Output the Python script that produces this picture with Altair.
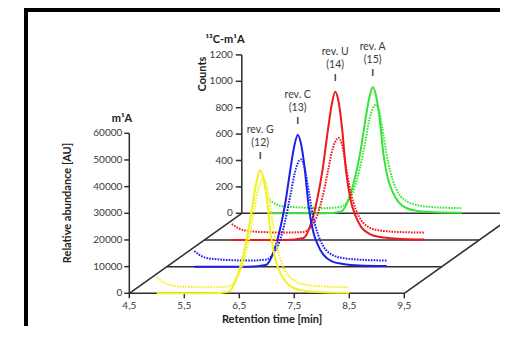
import altair as alt
import pandas as pd

# ---------------- data ----------------
rt = [5.0, 5.2, 5.5, 6.0, 6.3, 6.45, 6.55, 6.65, 6.75, 6.82, 6.88, 6.94, 7.0,
      7.08, 7.16, 7.25, 7.35, 7.5, 7.7, 8.0, 8.5]

# m1A relative abundance [AU] (solid traces)
m1a_rev_g = [0, 0, 0, 0, 600, 5600, 12400, 21800, 34500, 42400, 46100, 43100, 35600,
             21000, 12400, 7500, 4100, 1900, 900, 400, 200]
m1a_rev_c = [0, 0, 0, 0, 600, 6000, 13300, 23300, 36900, 45400, 49400, 46100, 38100,
             22500, 13300, 8000, 4400, 2000, 1000, 400, 200]
m1a_rev_u = [0, 0, 0, 0, 700, 6800, 15000, 26300, 41600, 51100, 55600, 52000, 42900,
             25300, 15000, 9000, 4900, 2300, 1100, 500, 200]
m1a_rev_a = [0, 0, 0, 0, 600, 5700, 12700, 22400, 35400, 43500, 47300, 44200, 36500,
             21500, 12700, 7700, 4200, 1900, 900, 400, 200]

# 13C-m1A counts (dotted traces)
c13_rev_g = [121, 68, 49, 46, 53, 114, 205, 364, 584, 744, 835, 873, 812,
             607, 402, 258, 159, 95, 65, 53, 46]
c13_rev_c = [118, 68, 53, 46, 53, 106, 190, 342, 547, 698, 782, 812, 759,
             569, 380, 243, 152, 91, 65, 53, 46]
c13_rev_u = [121, 76, 61, 56, 61, 106, 182, 326, 524, 668, 744, 774, 729,
             546, 364, 235, 152, 95, 72, 61, 56]
c13_rev_a = [102, 57, 46, 39, 49, 106, 194, 349, 554, 710, 793, 824, 770,
             577, 387, 247, 152, 91, 61, 46, 39]

samples = ["rev. G", "rev. C", "rev. U", "rev. A"]
sample_numbers = ["(12)", "(13)", "(14)", "(15)"]
colors = ["#f2f21c", "#1f1fe8", "#ec1c1c", "#36e436"]

x_ticks = [4.5, 5.5, 6.5, 7.5, 8.5, 9.5]
au_ticks = [0, 10000, 20000, 30000, 40000, 50000, 60000]
count_ticks = [0, 200, 400, 600, 800, 1000, 1200]

# ---------------- projection / layout constants ----------------
W, H = 492, 318
PX_PER_MIN = 55.0
PX_PER_AU = 160.0 / 60000.0
X_ORIGIN_PX, Y_ORIGIN_PX = 121.3, 285.3          # where (4.5 min, 0 AU) sits in the plot
X0, X1 = x_ticks[0], x_ticks[-1]
DEPTH_DX = 37.5 / PX_PER_MIN                      # depth step along retention time
DEPTH_DY = 10000.0                                # depth step along abundance
COUNT_TO_AU = 49.5
N_DEPTH = 3
TICK_MIN = 5.0 / PX_PER_MIN
TICK_AU = 5.0 / PX_PER_AU

xscale = alt.Scale(domain=[X0 - X_ORIGIN_PX / PX_PER_MIN, X0 + (W - X_ORIGIN_PX) / PX_PER_MIN],
                   nice=False, zero=False)
yscale = alt.Scale(domain=[-(H - Y_ORIGIN_PX) / PX_PER_AU, Y_ORIGIN_PX / PX_PER_AU],
                   nice=False, zero=False)


def X(f="X"):
    return alt.X(f"{f}:Q", scale=xscale, axis=None)


def Y(f="Y"):
    return alt.Y(f"{f}:Q", scale=yscale, axis=None)


def px2x(p):
    return X0 + (p - 8 - X_ORIGIN_PX) / PX_PER_MIN


def px2y(p):
    return (Y_ORIGIN_PX - (p - 8)) / PX_PER_AU


FONT = "Lato"
TXT = "#3a3a3a"
AX = "#2e2e2e"

# ---------------- traces ----------------
solids = [m1a_rev_g, m1a_rev_c, m1a_rev_u, m1a_rev_a]
dotted = [c13_rev_g, c13_rev_c, c13_rev_u, c13_rev_a]
rows = []
for d, name in enumerate(samples):
    for i, (t, v) in enumerate(zip(rt, solids[d])):
        rows.append(dict(sample=name, depth=d, kind="m1A", i=i,
                         X=t + d * DEPTH_DX, Y=v + d * DEPTH_DY))
    for i, (t, c) in enumerate(zip(rt, dotted[d])):
        rows.append(dict(sample=name, depth=d, kind="13C", i=i,
                         X=t + d * DEPTH_DX, Y=c * COUNT_TO_AU + d * DEPTH_DY))
traces = pd.DataFrame(rows)

# ---------------- axes geometry ----------------
segs = []
for d in range(N_DEPTH + 1):  # depth baselines
    segs.append(dict(X=X0 + d * DEPTH_DX, Y=d * DEPTH_DY, X2=X1 + d * DEPTH_DX, Y2=d * DEPTH_DY))
for xv in (X0, X1):  # diagonals
    segs.append(dict(X=xv, Y=0, X2=xv + N_DEPTH * DEPTH_DX, Y2=N_DEPTH * DEPTH_DY))
segs.append(dict(X=X0, Y=0, X2=X0, Y2=au_ticks[-1]))  # front y axis
BX = X0 + N_DEPTH * DEPTH_DX
BY = N_DEPTH * DEPTH_DY
segs.append(dict(X=BX, Y=BY, X2=BX, Y2=BY + count_ticks[-1] * COUNT_TO_AU))  # back axis
for v in au_ticks:
    segs.append(dict(X=X0 - TICK_MIN, Y=v, X2=X0, Y2=v))
for c in count_ticks:
    yy = BY + c * COUNT_TO_AU
    segs.append(dict(X=BX - TICK_MIN * 1.2, Y=yy, X2=BX, Y2=yy))
for t in x_ticks:
    segs.append(dict(X=t, Y=0, X2=t, Y2=-TICK_AU))
segs = pd.DataFrame(segs)

rules = alt.Chart(segs).mark_rule(color=AX, strokeWidth=1.5).encode(
    x=X(), y=Y(), x2=alt.X2("X2:Q"), y2=alt.Y2("Y2:Q"))

# outer picture frame (decoration: top and left edges), kept inside the canvas
frame = pd.DataFrame([
    dict(X=px2x(24), Y=px2y(10), X2=px2x(8 + W), Y2=px2y(10)),
    dict(X=px2x(26), Y=px2y(8), X2=px2x(26), Y2=px2y(8 + H)),
])
frame_l = alt.Chart(frame).mark_rule(color="black", strokeWidth=4).encode(
    x=X(), y=Y(), x2=alt.X2("X2:Q"), y2=alt.Y2("Y2:Q"))

# tick labels
xlab = pd.DataFrame(dict(X=x_ticks, Y=[0] * len(x_ticks),
                         t=[f"{v:.1f}".replace(".", ",") for v in x_ticks]))
ylab = pd.DataFrame(dict(X=[X0] * len(au_ticks), Y=au_ticks, t=[str(v) for v in au_ticks]))
clab = pd.DataFrame(dict(X=[BX] * len(count_ticks),
                         Y=[BY + c * COUNT_TO_AU for c in count_ticks],
                         t=[str(c) for c in count_ticks]))

xlab_l = alt.Chart(xlab).mark_text(font=FONT, fontSize=10, color=TXT, dy=13, baseline="middle").encode(
    x=X(), y=Y(), text="t:N")
ylab_l = alt.Chart(ylab).mark_text(font=FONT, fontSize=10, color=TXT, dx=-7, align="right",
                                   baseline="middle").encode(x=X(), y=Y(), text="t:N")
clab_l = alt.Chart(clab).mark_text(font=FONT, fontSize=10, color=TXT, dx=-9, align="right",
                                   baseline="middle").encode(x=X(), y=Y(), text="t:N")

# titles
titles = pd.DataFrame([
    dict(t="Relative abundance [AU]", X=px2x(68), Y=px2y(203), a=270),
    dict(t="Counts", X=px2x(203), Y=px2y(74), a=270),
    dict(t="Retention time [min]", X=px2x(272), Y=px2y(319.5), a=0),
    dict(t="m\u00b9A", X=px2x(122), Y=px2y(119), a=0),
    dict(t="\u00b9\u00b3C-m\u00b9A", X=px2x(225), Y=px2y(40), a=0),
])
title_l = alt.Chart(titles).mark_text(font=FONT, fontSize=11, fontWeight="bold", color="#222222",
                                      baseline="middle", align="center").encode(
    x=X(), y=Y(), text="t:N", angle=alt.Angle("a:Q", scale=None))

# peak labels
peaks = []
for d, name in enumerate(samples):
    k = max(range(len(rt)), key=lambda j: solids[d][j])
    peaks.append(dict(name=name, num=sample_numbers[d], bar="I",
                      X=rt[k] + d * DEPTH_DX, Y=solids[d][k] + d * DEPTH_DY))
peaks = pd.DataFrame(peaks)
pk1 = alt.Chart(peaks).mark_text(font=FONT, fontSize=10.5, color=TXT, dy=-40).encode(x=X(), y=Y(), text="name:N")
pk2 = alt.Chart(peaks).mark_text(font=FONT, fontSize=10.5, color=TXT, dy=-27).encode(x=X(), y=Y(), text="num:N")
pk3 = alt.Chart(peaks).mark_text(font=FONT, fontSize=10, fontWeight="bold", color=TXT, dy=-14).encode(
    x=X(), y=Y(), text="bar:N")

# trace layers, back to front
trace_layers = []
for d in reversed(range(len(samples))):
    sub = traces[traces.depth == d]
    trace_layers.append(
        alt.Chart(sub[sub.kind == "13C"]).mark_line(
            color=colors[d], strokeWidth=2, strokeDash=[1.6, 1.2], interpolate="monotone").encode(
            x=X(), y=Y(), order="i:Q"))
    trace_layers.append(
        alt.Chart(sub[sub.kind == "m1A"]).mark_line(
            color=colors[d], strokeWidth=2, interpolate="monotone").encode(
            x=X(), y=Y(), order="i:Q"))

chart = alt.layer(
    rules, *trace_layers, xlab_l, ylab_l, clab_l, title_l, pk1, pk2, pk3, frame_l
).properties(
    width=W, height=H, padding=0, autosize=alt.AutoSizeParams(type="none"), background="white"
).configure_view(stroke=None)

chart.save("out.html", embed_options={"renderer": "svg", "actions": False})
